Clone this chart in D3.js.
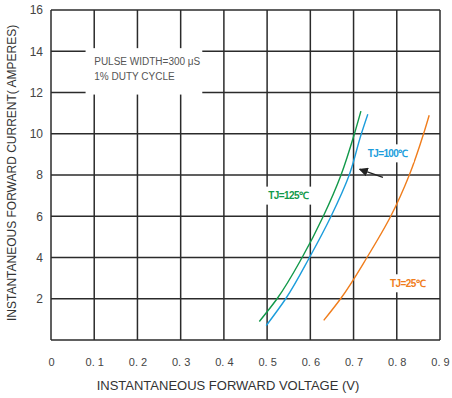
<!DOCTYPE html>
<html>
<head>
<meta charset="utf-8">
<script src="https://cdn.jsdelivr.net/npm/d3@7"></script>
<style>
  body { margin: 0; background: #fff; }
  text { font-family: "Liberation Sans", Arial, sans-serif; }
</style>
</head>
<body>
<script>
// forward voltage vs forward current
var xTicks = [0, 0.1, 0.2, 0.3, 0.4, 0.5, 0.6, 0.7, 0.8, 0.9];
var xTickLabels = ["0", "0. 1", "0. 2", "0. 3", "0. 4", "0. 5", "0. 6", "0. 7", "0. 8", "0. 9"];
var yTicks = [2, 4, 6, 8, 10, 12, 14, 16];

var v125 = [0.482, 0.523, 0.581, 0.630, 0.671, 0.702, 0.717];
var i125 = [0.9, 2, 4, 6, 8, 10, 11.1];
var v100 = [0.498, 0.543, 0.598, 0.648, 0.690, 0.718, 0.733];
var i100 = [0.7, 2, 4, 6, 8, 10, 10.95];
var v25 = [0.631, 0.670, 0.731, 0.786, 0.829, 0.862, 0.875];
var i25 = [0.95, 2, 4, 6, 8, 10, 10.9];

var series = [
  { name: "TJ=125℃", v: v125, i: i125, color: "#12994a" },
  { name: "TJ=100℃", v: v100, i: i100, color: "#1c9ddc" },
  { name: "TJ=25℃", v: v25, i: i25, color: "#f07d1c" }
];

var width = 452, height = 398;
var margin = { left: 51, right: 12, top: 10, bottom: 58 };

var svg = d3.select("body").append("svg")
  .attr("width", width)
  .attr("height", height);

var x = d3.scaleLinear().domain([0, 0.9]).range([margin.left, width - margin.right]);
var y = d3.scaleLinear().domain([0, 16]).range([height - margin.bottom, margin.top]);

var gridColor = "#2b2b2b";

// grid
svg.append("g").selectAll("line.v")
  .data(xTicks)
  .enter().append("line")
  .attr("x1", function (d) { return x(d); })
  .attr("x2", function (d) { return x(d); })
  .attr("y1", y(0))
  .attr("y2", y(16))
  .attr("stroke", gridColor)
  .attr("stroke-width", 1.5);

svg.append("g").selectAll("line.h")
  .data([0].concat(yTicks))
  .enter().append("line")
  .attr("x1", x(0))
  .attr("x2", x(0.9))
  .attr("y1", function (d) { return y(d); })
  .attr("y2", function (d) { return y(d); })
  .attr("stroke", gridColor)
  .attr("stroke-width", 1.5);

// axes (labels only, the grid does the lines)
var xAxis = d3.axisBottom(x)
  .tickValues(xTicks)
  .tickFormat(function (d, k) { return xTickLabels[k]; })
  .tickSize(0)
  .tickPadding(18);

var gx = svg.append("g")
  .attr("transform", "translate(0," + y(0) + ")")
  .call(xAxis);
gx.select(".domain").remove();
gx.selectAll("text")
  .attr("font-size", 11)
  .attr("font-family", "Liberation Sans, Arial, sans-serif")
  .attr("fill", "#444");

var yAxis = d3.axisLeft(y)
  .tickValues(yTicks)
  .tickSize(0)
  .tickPadding(8);

var gy = svg.append("g")
  .attr("transform", "translate(" + x(0) + ",0)")
  .call(yAxis);
gy.select(".domain").remove();
gy.selectAll("text")
  .attr("font-size", 12)
  .attr("font-family", "Liberation Sans, Arial, sans-serif")
  .attr("fill", "#444");

// axis titles
svg.append("text")
  .attr("x", 228)
  .attr("y", 390)
  .attr("text-anchor", "middle")
  .attr("font-size", 13)
  .attr("fill", "#333")
  .text("INSTANTANEOUS FORWARD VOLTAGE (V)");

svg.append("text")
  .attr("transform", "translate(16," + y(8.1) + ") rotate(-90)")
  .attr("text-anchor", "middle")
  .attr("font-size", 12)
  .attr("fill", "#333")
  .text("INSTANTANEOUS FORWARD CURRENT( AMPERES)");

// test condition box
svg.append("rect")
  .attr("x", x(0.08))
  .attr("y", y(14.15))
  .attr("width", x(0.35) - x(0.08))
  .attr("height", y(11.9) - y(14.15))
  .attr("fill", "#fff");

var note = svg.append("text")
  .attr("font-size", 10)
  .attr("fill", "#555");
note.append("tspan").attr("x", x(0.1)).attr("y", y(13.35)).text("PULSE WIDTH=300 μS");
note.append("tspan").attr("x", x(0.1)).attr("y", y(12.6)).text("1% DUTY CYCLE");

// curves
var line = d3.line()
  .x(function (d) { return x(d[0]); })
  .y(function (d) { return y(d[1]); })
  .curve(d3.curveMonotoneY);

svg.selectAll("path.curve")
  .data(series)
  .enter().append("path")
  .attr("class", "curve")
  .attr("d", function (s) { return line(d3.zip(s.v, s.i)); })
  .attr("fill", "none")
  .attr("stroke", function (s) { return s.color; })
  .attr("stroke-width", 1.4);

// curve labels with white boxes over the grid
var labelPos = [
  { v: 0.549, i: 7.0 },
  { v: 0.779, i: 9.05 },
  { v: 0.825, i: 2.75 }
];

series.forEach(function (s, k) {
  var p = labelPos[k];
  var cx = x(p.v), cy = y(p.i);
  svg.append("rect")
    .attr("x", cx - 26)
    .attr("y", cy - 9)
    .attr("width", 52)
    .attr("height", 18)
    .attr("fill", "#fff");
  svg.append("text")
    .attr("x", cx)
    .attr("y", cy + 3.5)
    .attr("text-anchor", "middle")
    .attr("font-size", 10)
    .attr("font-weight", "bold")
    .attr("letter-spacing", -0.6)
    .attr("fill", s.color)
    .text(s.name);
});

// arrow pointing at the 100 C curve
svg.append("defs").append("marker")
  .attr("id", "arr")
  .attr("viewBox", "0 0 10 10")
  .attr("refX", 9)
  .attr("refY", 5)
  .attr("markerWidth", 7)
  .attr("markerHeight", 7)
  .attr("orient", "auto")
  .append("path")
  .attr("d", "M0,0L10,5L0,10z")
  .attr("fill", "#222");

svg.append("line")
  .attr("x1", x(0.768))
  .attr("y1", y(7.88))
  .attr("x2", x(0.714))
  .attr("y2", y(8.28))
  .attr("stroke", "#222")
  .attr("stroke-width", 1.3)
  .attr("marker-end", "url(#arr)");
</script>
</body>
</html>
